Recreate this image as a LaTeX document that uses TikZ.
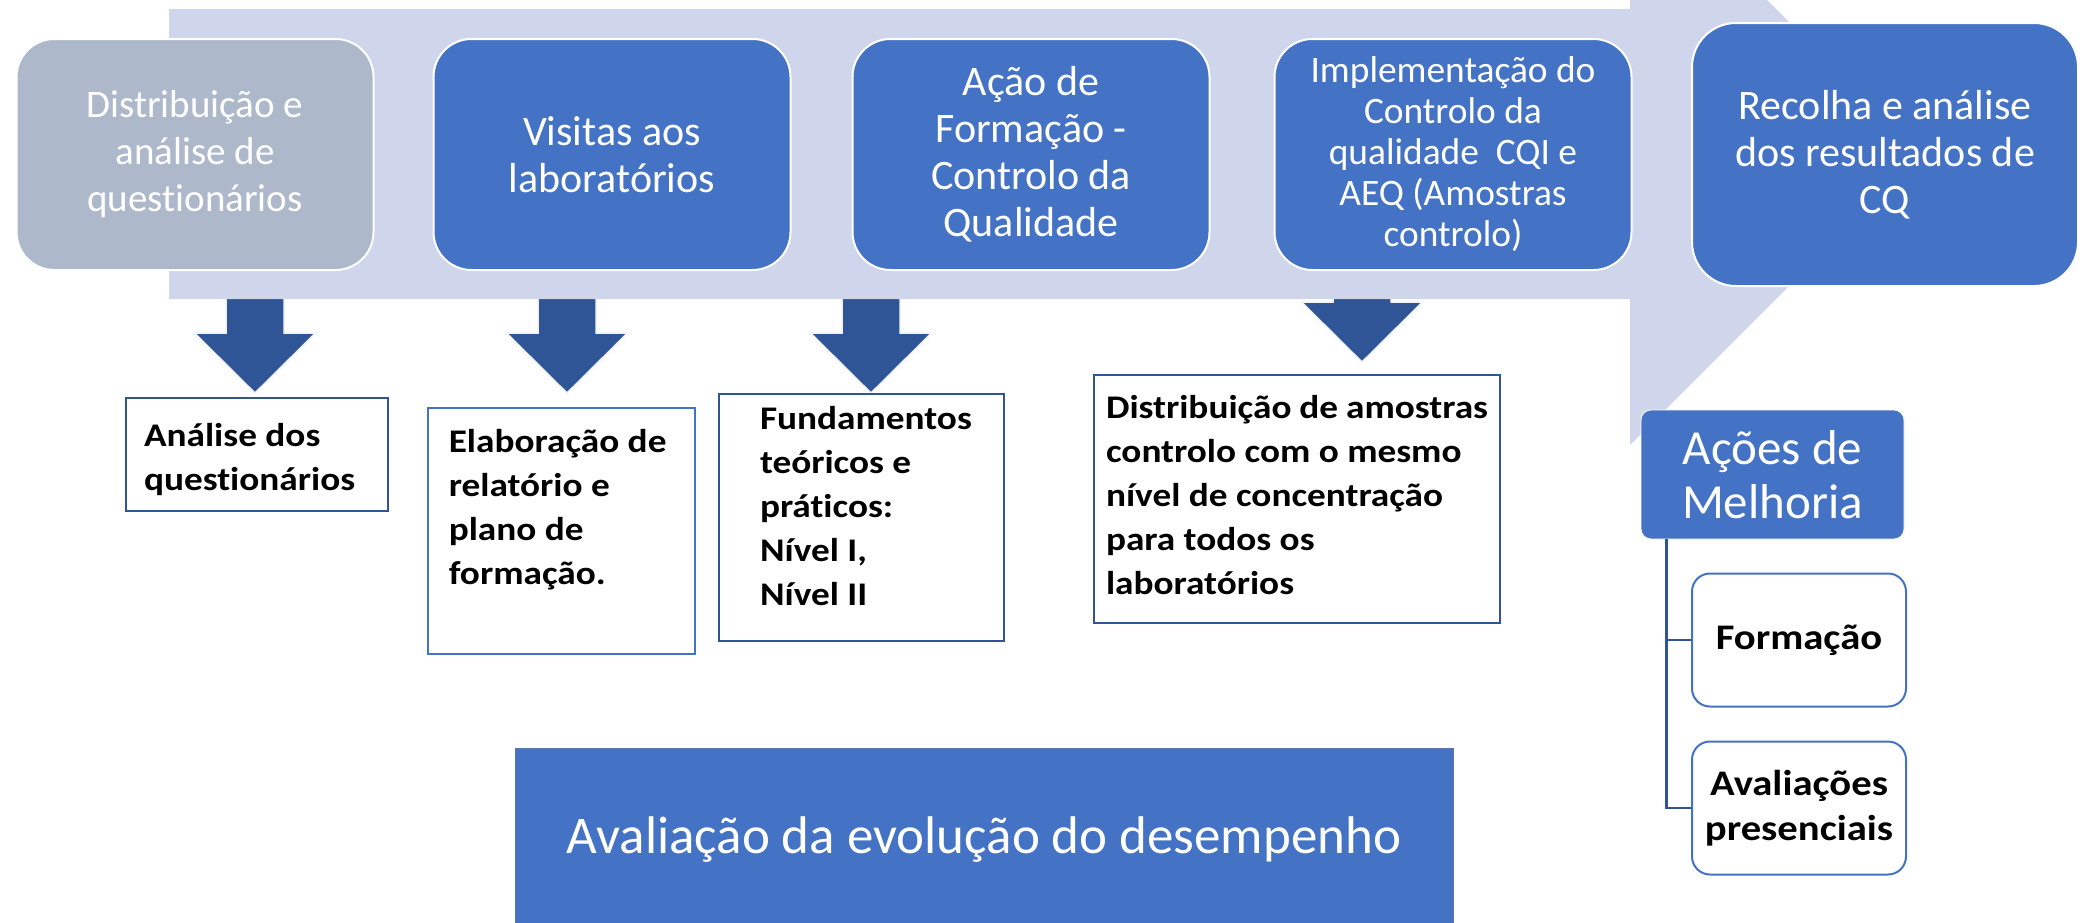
\documentclass[tikz,border=0pt]{standalone}
\usepackage{fontspec}
\setmainfont[Ligatures={TeX,NoCommon}]{Carlito}
\newfontfamily\negrito[FakeStretch=1.13, Ligatures=NoCommon]{Carlito}
\usetikzlibrary{positioning}
\hyphenpenalty=10000

\definecolor{azul}{HTML}{4472C4}
\definecolor{cinza}{HTML}{ADB9CA}
\definecolor{lavanda}{HTML}{CFD5EA}
\definecolor{azulescuro}{HTML}{2F5597}

\tikzset{
	etapa/.style={draw=white, line width=1pt, fill=azul, text=white, rounded corners=19pt,
		align=center, inner sep=0pt, minimum width=178.5pt, minimum height=115.5pt,
		font=\fontsize{21}{23.5}\selectfont},
	caixa/.style={draw=azulescuro, line width=1pt, fill=white, align=flush left, anchor=north west,
		inner ysep=0pt, font=\negrito\bfseries\fontsize{16.5}{22}\selectfont},
	melhoria/.style={draw=white, fill=azul, text=white, rounded corners=5pt, align=center,
		minimum width=131.5pt, minimum height=64.5pt, font=\fontsize{24.5}{27}\selectfont},
	opcao/.style={draw=azul, line width=1pt, fill=white, rounded corners=9pt, align=center,
		minimum width=107pt, minimum height=66.5pt, font=\negrito\bfseries\fontsize{18}{22.5}\selectfont},
	seta/.style={fill=azulescuro, draw=white!70!lavanda, line width=0.75pt},
	ligacao/.style={draw=azulescuro, line width=1.25pt},
}

\begin{document}
\begin{tikzpicture}[x=0.5pt, y=-0.5pt]
		% 固定画布大小
		\useasboundingbox (0, 0) rectangle (2083, 922);
		% 四个向下的箭头
		\foreach \cx/\ty in {255/333, 567/333, 871/333, 1362/302} {
				\draw[seta] ({\cx-29}, 250) -- ({\cx+29}, 250) -- ({\cx+29}, \ty) -- ({\cx+60.5}, \ty)
					-- (\cx, {\ty+60}) -- ({\cx-60.5}, \ty) -- ({\cx-29}, \ty) -- cycle;
			}
		% 背景的大箭头
		\fill[lavanda] (169, 9) -- (1630, 9) -- (1630, -137) -- (1921, 154) -- (1630, 445)
			-- (1630, 299) -- (169, 299) -- cycle;
		% 上方的五个步骤
		\node[etapa, fill=cinza, font=\fontsize{19.5}{23.5}\selectfont] (distribuicao) at (195, 154.5)
			{Distribuição e\\análise de\\questionários};
		\node[etapa] (visitas) at (612, 154.5) {Visitas aos\\laboratórios};
		\node[etapa] (acao) at (1031, 154.5) {Ação de\\Formação -\\Controlo da\\Qualidade};
		\node[etapa, font=\fontsize{18.7}{20.5}\selectfont] (implementacao) at (1453, 154.5)
			{Implementação do\\Controlo da\\qualidade\ \ CQI e\\AEQ (Amostras\\controlo)};
		\node[etapa, minimum width=193pt, minimum height=131.5pt, rounded corners=22pt] (recolha)
			at (1885, 154.5) {Recolha e análise\\dos resultados de\\CQ};
		% 箭头下面的说明框
		\node[caixa, inner xsep=9pt, text width=113pt, text height=24pt, text depth=32.5pt]
			(analise) at (125, 397) {Análise~dos\\questionários};
		\node[caixa, draw=azul, line width=0.75pt, inner xsep=10.5pt, text width=112.5pt,
			text height=22.5pt, text depth=100.5pt]
			(elaboracao) at (427, 407) {Elaboração~de\\relatório~e\\plano~de\\formação.};
		\node[caixa, inner xsep=20.5pt, text width=101.5pt, text height=17.5pt, text depth=106pt]
			(fundamentos) at (718, 393) {Fundamentos\\teóricos~e\\práticos:\\Nível~I,\\Nível~II};
		\node[caixa, inner xsep=6pt, text width=191pt, text height=21.5pt, text depth=102.5pt]
			(amostras) at (1093, 374)
			{Distribuição~de~amostras\\controlo~com~o~mesmo\\nível~de~concentração\\para~todos~os\\laboratórios};
		% 右边的改进措施
		\node[melhoria] (melhoria) at (1772.5, 474.5) {Ações de\\Melhoria};
		\node[opcao] (formacao) at (1799, 640) {Formação};
		\node[opcao, below=16.5pt of formacao] (avaliacoes) {Avaliações\\presenciais};
		% 连接线
		\coordinate (tronco) at ([xshift=13pt]melhoria.south west);
		\draw[ligacao] (tronco) |- (formacao.west);
		\draw[ligacao] (tronco) |- (avaliacoes.west);
		% 最下面的评估
		\node[draw=azulescuro!80, line width=0.5pt, fill=azul, text=white, minimum width=469pt,
			minimum height=92pt, font=\fontsize{26.5}{32}\selectfont]
			(desempenho) at (984, 840) {Avaliação da evolução do desempenho};
	\end{tikzpicture}
\end{document}
